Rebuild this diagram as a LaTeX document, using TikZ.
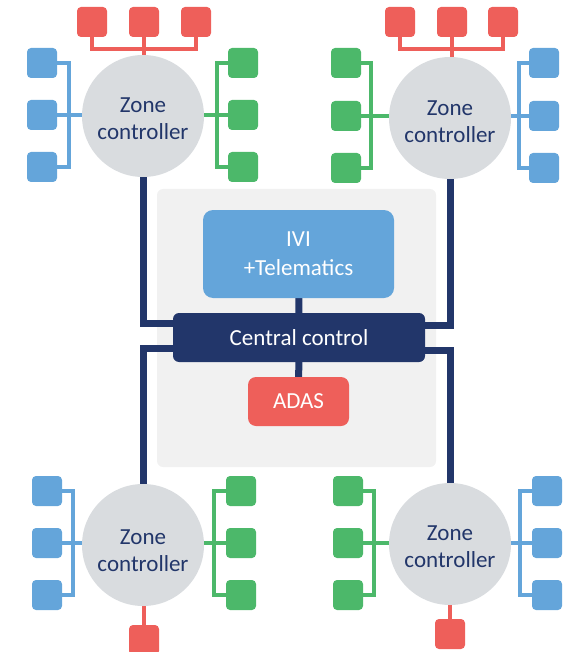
\documentclass[tikz,border=0pt]{standalone}
\usepackage{fontspec}
\setmainfont{Carlito}
\pgfdeclarelayer{panel}
\pgfdeclarelayer{wires}
\pgfsetlayers{panel,wires,main}
\definecolor{devred}{HTML}{EE5F5A}
\definecolor{devblue}{HTML}{64A5DA}
\definecolor{devgreen}{HTML}{4CB86A}
\definecolor{zonegray}{HTML}{D9DCDF}
\definecolor{navy}{HTML}{22366A}
\definecolor{panelgray}{HTML}{F1F1F1}

% three stacked devices beside a zone controller, joined by a bracket bus
% #1 prefix, #2 colour, #3 box x, #4 bus x, #5-#7 box y, #8 zone node
\newcommand\sidetree[8]{%
  \node[dev,fill=#2] (#1a) at (#3,#5) {};
  \node[dev,fill=#2] (#1b) at (#3,#6) {};
  \node[dev,fill=#2] (#1c) at (#3,#7) {};
  \coordinate (#1j) at (#4,#6);
  \begin{pgfonlayer}{wires}
    \draw[wire,#2] (#1a.center) -| (#1j) |- (#1c.center);
    \draw[wire,#2] (#1b.center) -- (#1b.center -| #8.center);
  \end{pgfonlayer}}
% three devices in a row above a zone controller
% #1 prefix, #2 box y, #3 bus y, #4-#6 box x, #7 zone node
\newcommand\toptree[7]{%
  \node[dev,fill=devred] (#1a) at (#4,#2) {};
  \node[dev,fill=devred] (#1b) at (#5,#2) {};
  \node[dev,fill=devred] (#1c) at (#6,#2) {};
  \coordinate (#1j) at (#5,#3);
  \begin{pgfonlayer}{wires}
    \draw[wire,devred] (#1a.center) |- (#1j) -| (#1c.center);
    \draw[wire,devred] (#1b.center) -- (#1b.center |- #7.center);
  \end{pgfonlayer}}

\begin{document}
\begin{tikzpicture}[x=1pt,y=-1pt,
  dev/.style={rounded corners=4pt,minimum size=30pt,inner sep=0pt},
  zone/.style={circle,fill=zonegray,minimum size=122pt,inner sep=0pt,
    label={[zonetext,yshift=-#1]center:Zone\\controller}},
  zonetext/.style={inner sep=0pt,align=center,text=navy,
    font=\fontsize{23}{27}\selectfont},
  wire/.style={line width=4pt},
  trunk/.style={line width=7pt,navy},
  ecu/.style={inner sep=0pt,align=center,text=white,
    font=\fontsize{23}{29}\selectfont}]
\path[use as bounding box] (0,0) rectangle (572,652);

% central compute area
\begin{pgfonlayer}{panel}
  \node[fill=panelgray,rounded corners=6pt,minimum width=279pt,
    minimum height=278pt,inner sep=0pt] (panel) at (296.5,328) {};
\end{pgfonlayer}
\node[ecu,fill=devblue,rounded corners=10pt,minimum width=191pt,
  minimum height=88pt] (ivi) at (298.5,254) {IVI\\+Telematics};
\node[ecu,fill=navy,rounded corners=6pt,minimum width=252pt,
  minimum height=49pt] (cc) at (299,337.5) {Central control};
\node[ecu,fill=devred,rounded corners=8pt,minimum width=101pt,
  minimum height=49pt] (adas) at (298.5,401.5) {ADAS};
\begin{pgfonlayer}{wires}
  \draw[trunk] (ivi.center) -- (cc.center) -- (adas.center);
\end{pgfonlayer}

% zone controllers
\node[zone=3pt] (ztl) at (143,116) {};
\node[zone=4pt] (ztr) at (450,118) {};
\node[zone=6pt] (zbl) at (143,545) {};
\node[zone=3pt] (zbr) at (450,544) {};

% devices of the top-left zone
\toptree{tlr}{22}{49}{92}{144}{196}{ztl}
\sidetree{tlb}{devblue}{42}{69}{63}{115}{167}{ztl}
\sidetree{tlg}{devgreen}{243}{217}{63}{115}{167}{ztl}

% devices of the top-right zone
\toptree{trr}{22}{49}{400}{452}{503}{ztr}
\sidetree{trg}{devgreen}{346}{371}{63}{116}{168}{ztr}
\sidetree{trb}{devblue}{544}{519}{63}{116}{168}{ztr}

% devices of the bottom-left zone
\sidetree{blb}{devblue}{47}{73}{491}{543}{595}{zbl}
\sidetree{blg}{devgreen}{241}{214}{491}{543}{595}{zbl}
\node[dev,fill=devred] (blr) at (144,640) {};

% devices of the bottom-right zone
\sidetree{brg}{devgreen}{348}{374}{491}{543}{595}{zbr}
\sidetree{brb}{devblue}{547}{520}{491}{543}{595}{zbr}
\node[dev,fill=devred] (brr) at (450,634) {};

\begin{pgfonlayer}{wires}
  \draw[wire,devred] (blr.center) -- (blr.center |- zbl.center);
  \draw[wire,devred] (brr.center) -- (brr.center |- zbr.center);
  % backbone from each zone to the central controller
  \coordinate (ktl) at (143,323);
  \coordinate (ktr) at (450,325);
  \coordinate (kbl) at (143,348);
  \coordinate (kbr) at (450,350);
  \draw[trunk] (ztl.center) -- (ktl) -- (ktl -| cc.center);
  \draw[trunk] (ztr.center) -- (ktr) -- (ktr -| cc.center);
  \draw[trunk] (zbl.center) -- (kbl) -- (kbl -| cc.center);
  \draw[trunk] (zbr.center) -- (kbr) -- (kbr -| cc.center);
\end{pgfonlayer}
\end{tikzpicture}
\end{document}
